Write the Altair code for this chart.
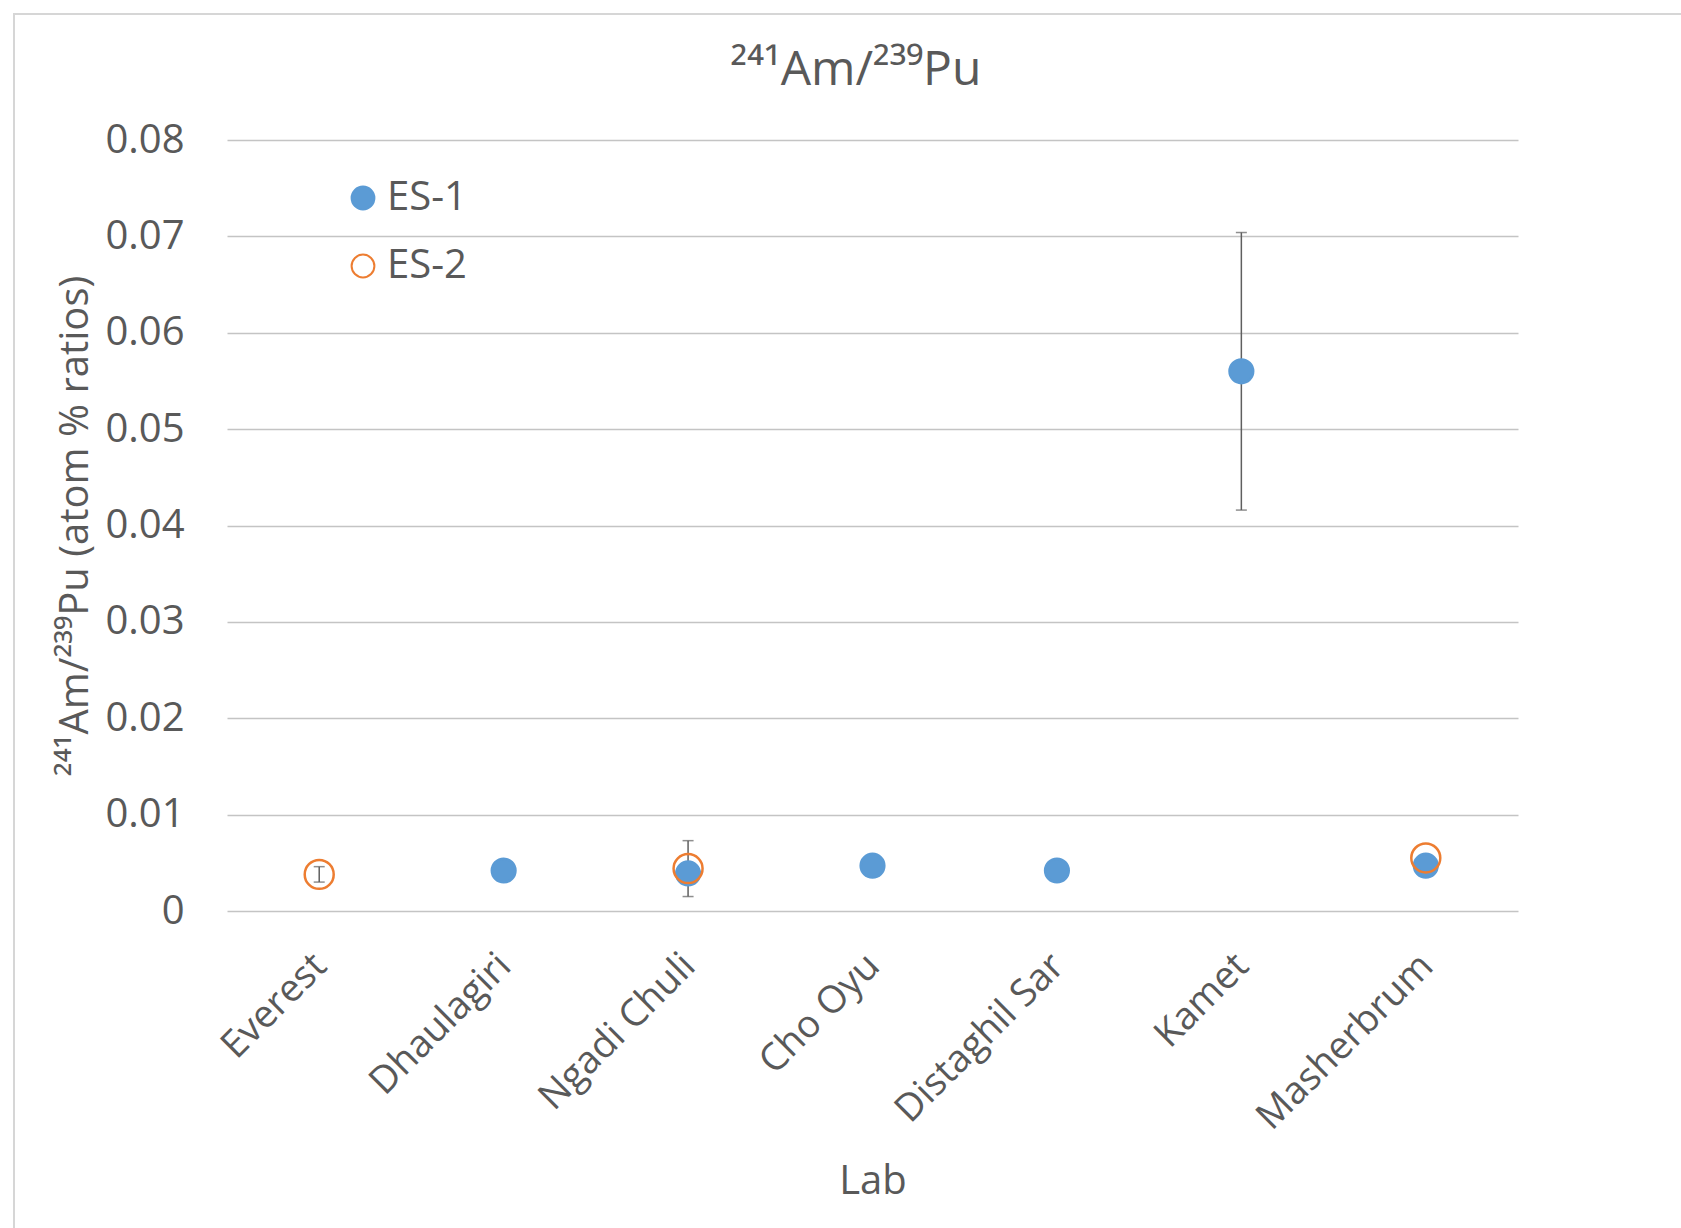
import altair as alt
import pandas as pd

labs = ["Everest", "Dhaulagiri", "Ngadi Chuli", "Cho Oyu", "Distaghil Sar", "Kamet", "Masherbrum"]
series_names = ["ES-1", "ES-2"]
es1_values = [None, 0.0042, 0.0039, 0.0047, 0.0042, 0.0560, 0.0047]
es1_errors = [None, None, None, None, None, 0.0144, None]
es2_values = [0.0038, None, 0.0044, None, None, None, 0.0055]
es2_errors = [0.0008, None, 0.0029, None, None, None, None]
y_ticks = [0, 0.01, 0.02, 0.03, 0.04, 0.05, 0.06, 0.07, 0.08]
chart_title = "²⁴¹Am/²³⁹Pu"
y_title = "²⁴¹Am/²³⁹Pu (atom % ratios)"
x_title = "Lab"

rows = []
for name, vals, errs in [("ES-1", es1_values, es1_errors), ("ES-2", es2_values, es2_errors)]:
    for lab, v, e in zip(labs, vals, errs):
        if v is None:
            continue
        rows.append({
            "Lab": lab, "Series": name, "Value": v,
            "Low": (v - e) if e else None, "High": (v + e) if e else None,
        })
df = pd.DataFrame(rows)

FONT = "Open Sans, Noto Sans, DejaVu Sans"
TXT = "#595959"
FS = 40

x_enc = alt.X("Lab:N", sort=labs, scale=alt.Scale(domain=labs, type="point", padding=0.5),
              axis=alt.Axis(title=x_title, labelAngle=-45, labelAlign="right", labelBaseline="middle",
                            labelOffset=1, labelPadding=49, labelLimit=0, ticks=False, tickSize=0,
                            domain=False, grid=False, labelFontSize=38, titleFontSize=FS,
                            labelColor=TXT, titleColor=TXT, titleFontWeight="normal", titleY=270,
                            titleBaseline="middle", labelFont=FONT, titleFont=FONT))
y_scale = alt.Scale(domain=[0, 0.08], nice=False)
y_axis = alt.Axis(title=y_title, values=y_ticks, format=".2~f",
                  ticks=False, tickSize=0, domain=False, grid=True, gridColor="#c4c4c4",
                  gridWidth=1.5, labelFontSize=FS, titleFontSize=FS, labelColor=TXT,
                  titleColor=TXT, titleFontWeight="normal", labelPadding=43,
                  titleX=-152, titleBaseline="middle", titleAlign="center",
                  labelFont=FONT, titleFont=FONT)

base = alt.Chart(df)

frame = alt.Chart(alt.Data(values=[{"k": 1}])).mark_rect(
    fillOpacity=0, stroke="#d6d6d6", strokeWidth=2
).encode(x=alt.value(-213), x2=alt.value(1600), y=alt.value(-126), y2=alt.value(1200))

title_mark = alt.Chart(alt.Data(values=[{"t": chart_title}])).mark_text(
    fontSize=48, font=FONT, color=TXT, align="center", baseline="middle"
).encode(text="t:N", x=alt.value(856 - 227), y=alt.value(71 - 140))

err = base.transform_filter("datum.Low != null")
rules = err.mark_rule(color="#5f5f5f", strokeWidth=1.5).encode(
    x=x_enc, y=alt.Y("Low:Q", scale=y_scale, axis=y_axis), y2="High:Q")
caps = err.transform_fold(["Low", "High"], as_=["end", "v"]).mark_tick(
    color="#5f5f5f", thickness=1.5, size=11).encode(
    x=x_enc, y=alt.Y("v:Q", scale=y_scale, axis=y_axis))

leg = alt.Legend(title=None, orient="none", legendX=116, legendY=38, labelFontSize=FS,
                 labelColor=TXT, labelFont=FONT, symbolSize=520, symbolStrokeWidth=2,
                 rowPadding=28, labelOffset=4, padding=0, symbolType="circle")
points = base.mark_point(shape="circle", strokeWidth=2.5, opacity=1).encode(
    x=x_enc,
    y=alt.Y("Value:Q", scale=y_scale, axis=y_axis),
    fill=alt.Fill("Series:N", scale=alt.Scale(domain=series_names, range=["#5B9BD5", "transparent"]), legend=leg),
    stroke=alt.Stroke("Series:N", scale=alt.Scale(domain=series_names, range=["#5B9BD5", "#ED7D31"]), legend=leg),
    size=alt.condition(alt.datum.Series == "ES-2", alt.value(840), alt.value(560)),
    order=alt.Order("Series:N"),
)

chart = alt.layer(frame, title_mark, rules, caps, points).properties(
    width=1291, height=771,
    background="white",
    autosize=alt.AutoSizeParams(type="none"),
    padding={"left": 227, "top": 140, "right": 163, "bottom": 317},
).configure_view(stroke="transparent", strokeWidth=0)

chart.save("out.html", embed_options={"renderer": "svg", "actions": False})
